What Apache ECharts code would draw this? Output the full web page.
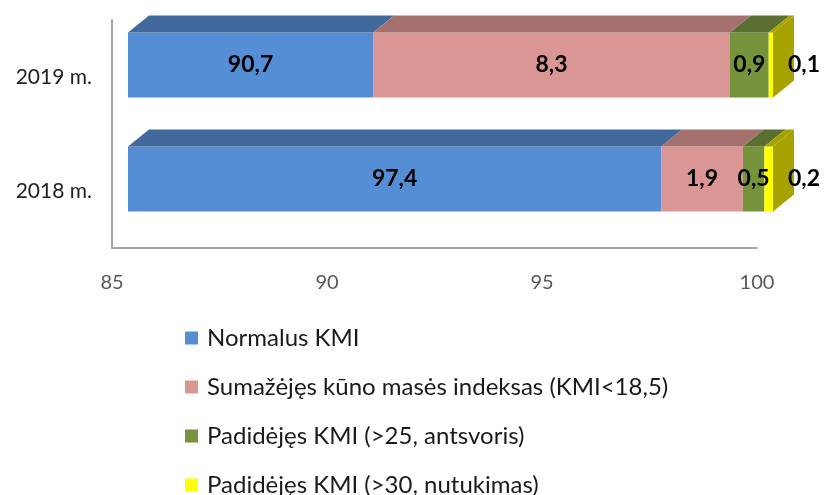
<!DOCTYPE html>
<html>
<head>
<meta charset="utf-8">
<script src="https://cdn.jsdelivr.net/npm/echarts@6/dist/echarts.min.js"></script>
<style>
  * { margin: 0; padding: 0; }
  html, body { background: #fff; }
  #chart { width: 824px; height: 495px; }
</style>
</head>
<body>
<div id="chart"></div>
<script>
// data
const years = ['2018 m.', '2019 m.']
const seriesNames = [
  'Normalus KMI',
  'Sumažėjęs kūno masės indeksas (KMI<18,5)',
  'Padidėjęs KMI (>25, antsvoris)',
  'Padidėjęs KMI (>30, nutukimas)'
]
const normalus = [97.4, 90.7]
const sumazejes = [1.9, 8.3]
const antsvoris = [0.5, 0.9]
const nutukimas = [0.2, 0.1]
const xTicks = [85, 90, 95, 100]

// styles
const frontColors = ['#558ed5', '#d99694', '#77933c', '#ffff00']
const topColors = ['#41699c', '#a5716f', '#5b7030', '#a6a300']
const labelPlace = ['inside', 'inside', 'inside', 'right']
const xMin = 85, xMax = 100
const depthX = 21, depthY = 17  // 3d depth
const shiftX = 16  // front face offset from axis plane
const shiftY = -12

const chart = echarts.init(document.getElementById('chart'))
const values = [normalus, sumazejes, antsvoris, nutukimas]

const fmt = v => String(v).replace('.', ',')

const series = values.map((vals, i) => {
  const data = vals.map((v, j) => {
    let start = 0
    for (let k = 0; k < i; k++) start += values[k][j]
    return [Math.max(xMin, start), start + v, j, v]
  })
  return {
    name: seriesNames[i],
    type: 'custom',
    itemStyle: { color: frontColors[i] },
    encode: { x: [0, 1], y: 2 },
    data: data,
    renderItem(params, api) {
      const s = api.value(0), e = api.value(1), j = api.value(2), v = api.value(3)
      const p0 = api.coord([s, j])
      const p1 = api.coord([e, j])
      const h = api.size([0, 1])[1] * 0.57
      const x0 = p0[0] + shiftX, x1 = p1[0] + shiftX
      const yT = p0[1] + shiftY - h / 2, yB = yT + h
      const children = [
        { type: 'rect', shape: { x: x0, y: yT, width: x1 - x0, height: h }, style: { fill: frontColors[i] } },
        { type: 'polygon', shape: { points: [[x0, yT], [x0 + depthX, yT - depthY], [x1 + depthX, yT - depthY], [x1, yT]] }, style: { fill: topColors[i] } }
      ]
      if (i === values.length - 1) {
        children.push({ type: 'polygon', shape: { points: [[x1, yT], [x1 + depthX, yT - depthY], [x1 + depthX, yB - depthY], [x1, yB]] }, style: { fill: topColors[i] } })
      }
      const right = labelPlace[i] === 'right'
      children.push({
        type: 'text',
        z2: 10,
        style: {
          text: fmt(v), x: right ? x1 + 15 : (x0 + x1) / 2, y: (yT + yB) / 2,
          align: right ? 'left' : 'center', verticalAlign: 'middle',
          font: 'bold 23px Lato, "Open Sans", sans-serif', fill: '#000'
        }
      })
      return { type: 'group', children: children }
    }
  }
})

chart.setOption({
  animation: false,
  backgroundColor: '#fff',
  grid: { left: 112, right: 67, top: 20, bottom: 247 },
  xAxis: {
    type: 'value',
    min: xMin, max: xMax, interval: 5,
    axisLine: { show: true, lineStyle: { color: '#a6a6a6', width: 2 } },
    axisTick: { show: false },
    splitLine: { show: false },
    axisLabel: {
      margin: 25, color: '#595959', fontSize: 20, fontFamily: 'Lato, sans-serif',
      formatter: v => xTicks.includes(v) ? String(v) : ''
    }
  },
  yAxis: {
    type: 'category',
    data: years,
    axisLine: { show: true, lineStyle: { color: '#a6a6a6', width: 2 } },
    axisTick: { show: false },
    axisLabel: { margin: 20, color: '#222', fontSize: 21, fontFamily: 'Lato, sans-serif' }
  },
  legend: {
    orient: 'vertical',
    left: 185, top: 326, height: 220, padding: 0,
    icon: 'rect', itemWidth: 13, itemHeight: 13, itemGap: 25,
    textStyle: { color: '#1a1a1a', fontSize: 24, fontFamily: 'Lato, sans-serif', padding: [0, 0, 0, 4] },
    data: seriesNames
  },
  series: series
})
</script>
</body>
</html>
